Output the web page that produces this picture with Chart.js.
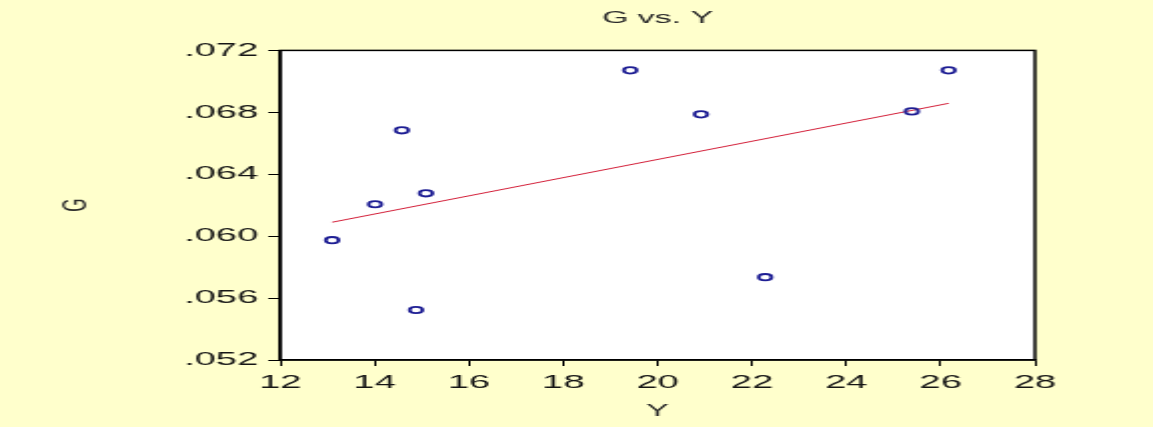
<!DOCTYPE html>
<html>
<head>
<meta charset="utf-8">
<script src="https://cdn.jsdelivr.net/npm/chart.js@4"></script>
<style>
  html, body { margin: 0; padding: 0; background: #ffffcc; }
  #chart { display: block; }
</style>
</head>
<body>
<!-- drawn narrow and stretched sideways, like the original picture -->
<canvas id="chart" width="576" height="427" style="width:1153px;height:427px"></canvas>
<script>
const yValues = [13.10, 14.01, 14.58, 15.09, 14.88, 19.42, 20.92, 22.28, 25.39, 26.17];
const gValues = [0.05974, 0.06206, 0.06684, 0.06277, 0.05523, 0.07071, 0.06787, 0.05735, 0.06806, 0.07071];
const fitY = [13.10, 26.17];
const fitG = [0.06090, 0.06858];
const xTicks = [12, 14, 16, 18, 20, 22, 24, 26, 28];
const gTicks = [0.052, 0.056, 0.060, 0.064, 0.068, 0.072];

const ctx = document.getElementById('chart').getContext('2d');
const tickFont = { family: 'Liberation Sans, Arial, sans-serif', size: 19 };

const backgrounds = {
  id: 'backgrounds',
  beforeDraw(chart) {
    const c = chart.ctx, a = chart.chartArea;
    c.save();
    c.fillStyle = '#ffffcc';
    c.fillRect(0, 0, chart.width, chart.height);
    c.fillStyle = '#ffffff';
    c.fillRect(a.left, a.top, a.right - a.left, a.bottom - a.top);
    c.restore();
  },
  afterDatasetsDraw(chart) {
    const c = chart.ctx, a = chart.chartArea;
    c.save();
    c.strokeStyle = '#000';
    c.lineWidth = 1.5;
    c.strokeRect(a.left, a.top, a.right - a.left, a.bottom - a.top);
    c.restore();
  }
};

new Chart(ctx, {
  type: 'scatter',
  data: {
    datasets: [
      {
        label: 'G',
        data: yValues.map((x, i) => ({ x: x, y: gValues[i] })),
        pointStyle: 'circle',
        pointRadius: 3.2,
        borderWidth: 1.8,
        borderColor: '#1e1e94',
        backgroundColor: 'rgba(0,0,0,0)'
      },
      {
        label: 'fit',
        type: 'line',
        data: fitY.map((x, i) => ({ x: x, y: fitG[i] })),
        borderColor: '#d4203a',
        borderWidth: 1,
        pointRadius: 0,
        fill: false
      }
    ]
  },
  options: {
    responsive: false,
    animation: false,
    devicePixelRatio: 1,
    layout: { padding: { left: 0, right: 59, top: 0, bottom: 0 } },
    plugins: {
      legend: { display: false },
      tooltip: { enabled: false },
      title: {
        display: true,
        text: 'G vs. Y',
        fullSize: false,
        color: '#2a2a2a',
        font: { family: 'Liberation Sans, Arial, sans-serif', size: 17, weight: 'normal' },
        padding: { top: 8, bottom: 22 }
      }
    },
    scales: {
      x: {
        type: 'linear',
        min: 12,
        max: 28,
        afterBuildTicks: s => { s.ticks = xTicks.map(v => ({ value: v })); },
        afterFit: s => { s.height = 67; },
        ticks: { color: '#151515', font: tickFont, padding: 5, maxRotation: 0 },
        grid: { display: true, drawOnChartArea: false, drawTicks: true, tickLength: 6, color: '#000', lineWidth: 1 },
        border: { display: true, color: '#000', width: 1.5 },
        title: { display: true, text: 'Y', color: '#2a2a2a', font: { family: 'Liberation Sans, Arial, sans-serif', size: 17 }, padding: { top: 4, bottom: 5 } }
      },
      y: {
        type: 'linear',
        min: 0.052,
        max: 0.072,
        afterBuildTicks: s => { s.ticks = gTicks.map(v => ({ value: v })); },
        afterFit: s => { s.width = 140; },
        ticks: {
          color: '#151515',
          font: tickFont,
          padding: 5,
          callback: v => v.toFixed(3).replace(/^0/, '')
        },
        grid: { display: true, drawOnChartArea: false, drawTicks: true, tickLength: 6, color: '#000', lineWidth: 1 },
        border: { display: true, color: '#000', width: 1.5 },
        title: { display: true, text: 'G', color: '#2a2a2a', font: { family: 'Liberation Sans, Arial, sans-serif', size: 17 }, padding: { top: 28, bottom: 28 } }
      }
    }
  },
  plugins: [backgrounds]
});
</script>
</body>
</html>
